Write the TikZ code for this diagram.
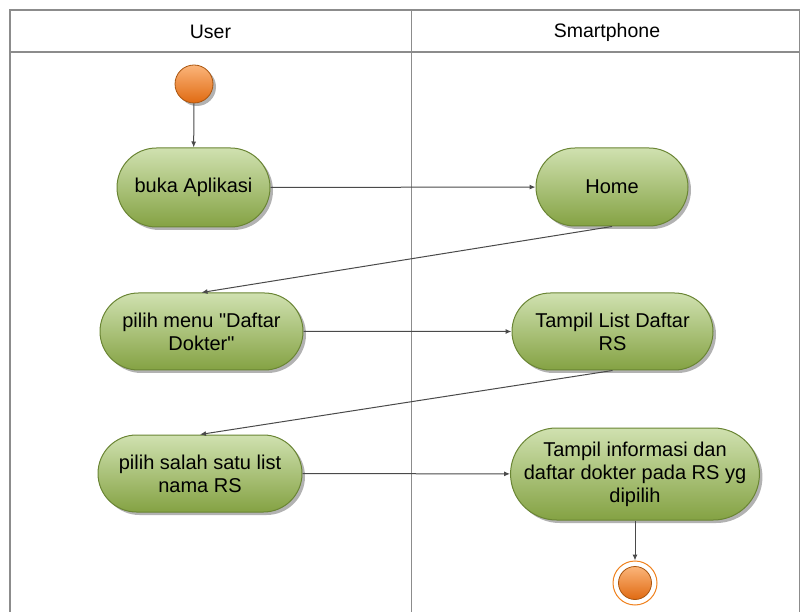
\documentclass[tikz,border=0pt]{standalone}
\usepackage{fontspec}
\setmainfont{Liberation Sans}
\usetikzlibrary{shapes.misc,shadows,arrows.meta}

\definecolor{lane}{HTML}{8C8C8C}
\definecolor{flow}{HTML}{4A4A4A}
\definecolor{actTop}{HTML}{D0E1B0}
\definecolor{actBot}{HTML}{84A243}
\definecolor{actLine}{HTML}{6A8534}
\definecolor{dotTop}{HTML}{FBB57A}
\definecolor{dotBot}{HTML}{E06A12}
\definecolor{dotLine}{HTML}{A9550F}
\definecolor{ring}{HTML}{F0821E}

\begin{document}
\begin{tikzpicture}[x=1pt,y=-1pt,
  act/.style={rounded rectangle, draw=actLine, line width=1pt,
    top color=actTop, bottom color=actBot, align=center,
    font=\fontsize{20}{23}\selectfont, inner sep=0pt,
    drop shadow={shadow xshift=3pt, shadow yshift=-3pt, opacity=0.3, fill=black}},
  dot/.style={circle, draw=dotLine, line width=0.8pt, top color=dotTop,
    bottom color=dotBot, inner sep=0pt},
  flowline/.style={draw=flow, line width=1pt, -{Latex[length=6pt,width=5pt]}},
  lanehead/.style={font=\fontsize{19.5}{22}\selectfont}]

\useasboundingbox (0,0) rectangle (801,612);

% swimlane frame
\draw[lane, line width=1.5pt] (10,612) -- (10,10) -- (799.5,10) -- (799.5,612);
\draw[lane, line width=1.5pt] (10,52) -- (799.5,52);
\draw[lane, line width=1.5pt] (411.5,10) -- (411.5,612);
\node[lanehead] (hUser) at (210.5,32) {User};
\node[lanehead] (hPhone) at (607,32) {Smartphone};

% initial node
\node[dot, minimum size=38pt,
  drop shadow={shadow xshift=3pt, shadow yshift=-3pt, opacity=0.3, fill=black}] (start) at (194,84) {};

% activities
\node[act, minimum width=153pt, minimum height=79pt] (buka) at (193.5,187.5) {buka Aplikasi};
\node[act, minimum width=152pt, minimum height=78pt] (home) at (612,187) {Home};
\node[act, minimum width=203pt, minimum height=77pt] (menu) at (201.5,331.5) {pilih menu \textquotedbl Daftar\\Dokter\textquotedbl};
\node[act, minimum width=201pt, minimum height=77pt] (list) at (612.5,331.5) {Tampil List Daftar\\RS};
\node[act, minimum width=204pt, minimum height=77pt] (salah) at (200,473.5) {pilih salah satu list\\nama RS};
\node[act, minimum width=244pt, minimum height=92pt] (info) at (635,474) {Tampil informasi dan\\daftar dokter pada RS yg\\dipilih};

% final node
\node[circle, draw=ring, line width=1pt, fill=white, minimum size=44pt, inner sep=0pt] (end) at (635,583) {};
\node[dot, minimum size=33pt] (endcore) at (end.center) {};

% control flow
\draw[flowline] (start) -- (buka);
\draw[flowline] (buka) -- (home);
\draw[flowline] (home.south) -- (menu.north);
\draw[flowline] (menu) -- (list);
\draw[flowline] (list.south) -- (salah.north);
\draw[flowline] (salah) -- (info);
\draw[flowline] (info.south) -- (end.north);
\end{tikzpicture}
\end{document}
